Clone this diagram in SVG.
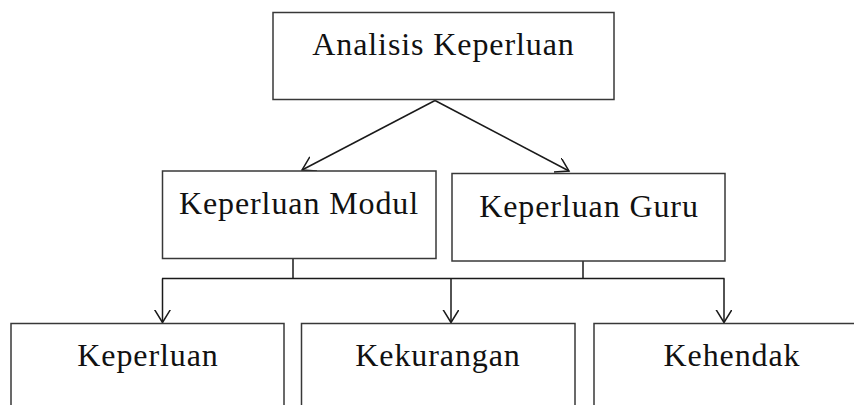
<svg xmlns="http://www.w3.org/2000/svg" width="854" height="405" viewBox="0 0 854 405">
<style>
.box{fill:#fff;stroke:#383838;stroke-width:1.5}
.lbl{font-family:"Liberation Serif","Times New Roman",serif;font-size:32px;letter-spacing:0.9px;fill:#111;text-anchor:middle}
.ln{fill:none;stroke:#1a1a1a;stroke-width:1.5}
</style>
<defs>
<marker id="ah" markerUnits="userSpaceOnUse" markerWidth="16" markerHeight="18" refX="13" refY="8" orient="auto" viewBox="0 0 16 18">
<path d="M0,0 L13,8 L0,16" fill="none" stroke="#1a1a1a" stroke-width="1.5"/>
</marker>
</defs>
<rect width="854" height="405" fill="#fff"/>
<g id="connectors">
<line class="ln" x1="435" y1="100.5" x2="302" y2="170" marker-end="url(#ah)"/>
<line class="ln" x1="435" y1="100.5" x2="569" y2="171" marker-end="url(#ah)"/>
<line class="ln" x1="293" y1="258.5" x2="293" y2="278.5"/>
<line class="ln" x1="583" y1="261" x2="583" y2="278.5"/>
<line class="ln" x1="162" y1="278.5" x2="724.5" y2="278.5"/>
<line class="ln" x1="162.5" y1="278.5" x2="162.5" y2="322.5" marker-end="url(#ah)"/>
<line class="ln" x1="451" y1="278.5" x2="451" y2="322.5" marker-end="url(#ah)"/>
<line class="ln" x1="724" y1="278.5" x2="724" y2="322.5" marker-end="url(#ah)"/>
</g>
<g id="analisis">
<rect class="box" x="273" y="12.5" width="341" height="87"/>
<text class="lbl" x="443.5" y="54.5">Analisis Keperluan</text>
</g>
<g id="modul">
<rect class="box" x="162.5" y="171" width="273.5" height="87.5"/>
<text class="lbl" x="299" y="213.5">Keperluan Modul</text>
</g>
<g id="guru">
<rect class="box" x="452" y="173.5" width="273" height="87.5"/>
<text class="lbl" x="589" y="216.5">Keperluan Guru</text>
</g>
<g id="keperluan">
<rect class="box" x="11" y="323.5" width="273" height="100"/>
<text class="lbl" x="148" y="366">Keperluan</text>
</g>
<g id="kekurangan">
<rect class="box" x="301.5" y="323.5" width="273.5" height="100"/>
<text class="lbl" x="438" y="366">Kekurangan</text>
</g>
<g id="kehendak">
<rect class="box" x="594" y="323.5" width="280" height="100"/>
<text class="lbl" x="732" y="366">Kehendak</text>
</g>
</svg>
